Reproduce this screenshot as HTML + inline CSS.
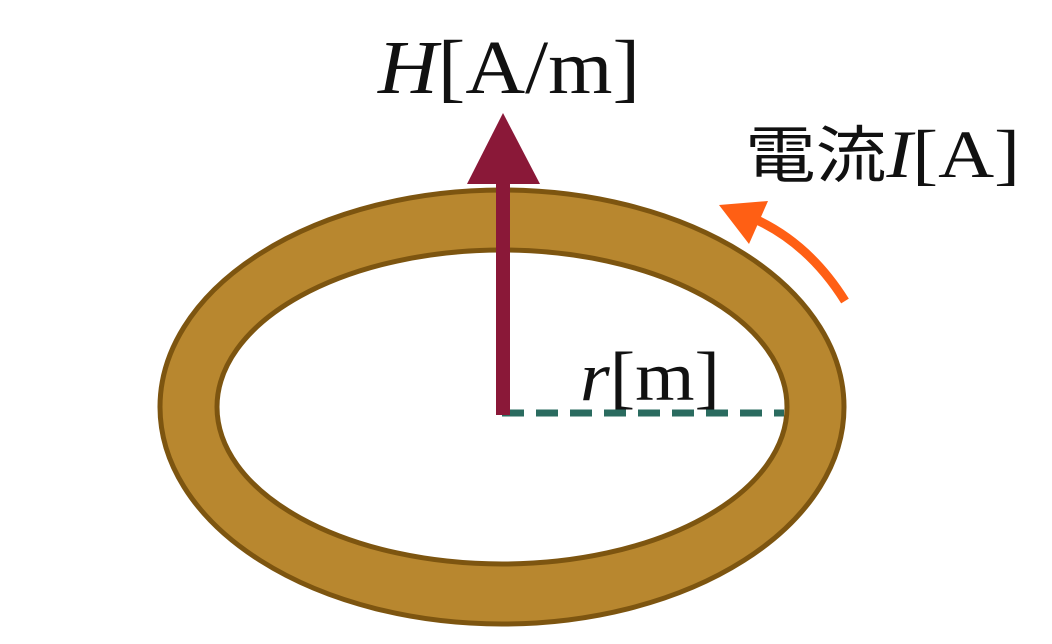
<!DOCTYPE html>
<html><head><meta charset="utf-8"><style>html,body{margin:0;padding:0;background:#fff;}</style></head>
<body>
<svg width="1052" height="639" viewBox="0 0 1052 639" xmlns="http://www.w3.org/2000/svg">
<rect width="1052" height="639" fill="#fff"/>
<path fill-rule="evenodd" fill="#b8872f" stroke="#7d5510" stroke-width="5"
 d="M160,407 a342,217 0 1,0 684,0 a342,217 0 1,0 -684,0 Z M217,407 a285,157 0 1,0 570,0 a285,157 0 1,0 -570,0 Z"/>
<line x1="502" y1="413" x2="784" y2="413" stroke="#2a6b5f" stroke-width="7" stroke-dasharray="22,12"/>
<rect x="496" y="178" width="14" height="237" fill="#8a1838"/>
<polygon points="503,113 467,184 540,184" fill="#8a1838"/>
<path d="M845,301 Q810,245 757,220" fill="none" stroke="#ff5f14" stroke-width="9"/>
<polygon points="719,205 768,201 749,244" fill="#ff5f14"/>
<g font-family="Liberation Serif, serif" fill="#111">
<text x="378" y="93" font-size="76" textLength="262" lengthAdjust="spacingAndGlyphs"><tspan font-style="italic">H</tspan>[A/m]</text>
<text x="580" y="400" font-size="70" textLength="140" lengthAdjust="spacingAndGlyphs"><tspan font-style="italic">r</tspan>[m]</text>
<text x="745" y="177" font-size="68" textLength="275" lengthAdjust="spacingAndGlyphs"><tspan font-family="Noto Sans CJK JP, sans-serif" font-size="62">電流</tspan><tspan font-style="italic">I</tspan>[A]</text>
</g>
</svg>
</body></html>
